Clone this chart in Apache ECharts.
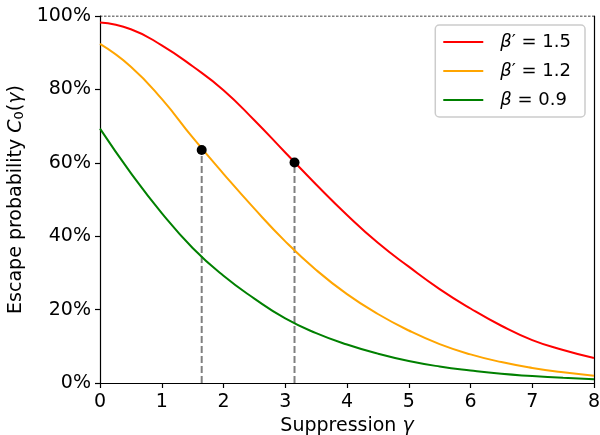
<!DOCTYPE html>
<html>
<head>
<meta charset="utf-8">
<script src="https://cdn.jsdelivr.net/npm/echarts@6/dist/echarts.min.js"></script>
<style>html,body{margin:0;padding:0;background:#fff;}#c{width:600px;height:435px;}</style>
</head>
<body>
<div id="c"></div>
<script>
const xs = [0,0.5,1,1.5,2,2.5,3,3.5,4,4.5,5,5.5,6,6.5,7,7.5,8];
const red = [98.2,96.4,92.0,86.3,79.8,71.6,62.8,54.1,45.8,38.2,31.7,25.6,20.3,15.6,11.7,9.0,6.8];
const orange = [92.4,86.2,77.4,66.9,57.0,47.5,38.6,30.8,24.2,18.8,14.3,10.6,7.8,5.7,4.1,2.9,2.0];
const green = [69.3,57.2,46.3,36.8,29.2,23.0,17.6,13.6,10.5,8.0,6.0,4.5,3.4,2.5,1.9,1.4,1.0];
const dotX = [1.647, 3.15];
const dotY = [63.5, 60.1];
const names = ["β′ = 1.5", "β′ = 1.2", "β = 0.9"];
const legendRich = ["{i|β}′ = 1.5", "{i|β}′ = 1.2", "{i|β} = 0.9"];

const F = "DejaVu Sans";
const FS = 19;
const pair = (arr) => xs.map((x,i)=>[x, arr[i]/100]);

const chart = echarts.init(document.getElementById('c'));
chart.setOption({
  animation: false,
  grid: {left:100, right:6, top:16, bottom:52, containLabel:false, outerBoundsMode:'none'},
  legend: {
    right: 15, top: 25,
    orient: 'vertical',
    data: names,
    icon: 'rect',
    itemWidth: 40, itemHeight: 2,
    itemGap: 11,
    padding: [8, 14, 8, 8],
    backgroundColor: '#fff',
    borderColor: '#cccccc',
    borderWidth: 1.5,
    borderRadius: 4,
    formatter: (n) => legendRich[names.indexOf(n)],
    textStyle: {fontFamily: F, fontSize: 18, color:'#000', padding:[0,0,0,12],
      rich: {i: {fontFamily: F, fontSize: 18, fontStyle:'italic', color:'#000'}}}
  },
  xAxis: {
    type: 'value', min: 0, max: 8, interval: 1,
    name: 'Suppression {i|γ}', nameLocation: 'middle', nameGap: 31,
    nameTextStyle: {fontFamily: F, fontSize: FS, color:'#000',
      rich: {i:{fontFamily:F, fontSize:FS, fontStyle:'italic', color:'#000'}}},
    axisLine: {show:true, lineStyle:{color:'#000', width:1.2}},
    axisTick: {show:true, length:5, lineStyle:{color:'#000', width:1.2}},
    axisLabel: {fontFamily: F, fontSize: FS, color:'#000', margin: 10},
    splitLine: {show:false}
  },
  yAxis: [{
    type: 'value', min: 0, max: 1, interval: 0.2,
    name: 'Escape probability {i|C}{s|0}({i|γ})', nameLocation: 'middle', nameGap: 68,
    nameTextStyle: {fontFamily: F, fontSize: FS, color:'#000',
      rich: {i:{fontFamily:F, fontSize:FS, fontStyle:'italic', color:'#000'},
             s:{fontFamily:F, fontSize:13, color:'#000', verticalAlign:'bottom', padding:[6,0,0,0]}}},
    axisLine: {show:true, lineStyle:{color:'#000', width:1.2}},
    axisTick: {show:true, length:5, lineStyle:{color:'#000', width:1.2}},
    axisLabel: {fontFamily: F, fontSize: FS, color:'#000', margin: 9,
      formatter: (v) => Math.round(v*100) + '%'},
    splitLine: {show:false}
  },{
    type: 'value', min: 0, max: 1, position: 'right',
    axisLine: {show:true, lineStyle:{color:'#000', width:1.2}},
    axisTick: {show:false}, axisLabel: {show:false}, splitLine: {show:false}
  }],
  series: [
    {name: names[0], type:'line', data: pair(red), smooth: 0.5, symbol:'none', lineStyle:{color:'#ff0000', width:2}, itemStyle:{color:'#ff0000'}, z:3},
    {name: names[1], type:'line', data: pair(orange), smooth: 0.5, symbol:'none', lineStyle:{color:'#ffa500', width:2}, itemStyle:{color:'#ffa500'}, z:3},
    {name: names[2], type:'line', data: pair(green), smooth: 0.5, symbol:'none', lineStyle:{color:'#008000', width:2}, itemStyle:{color:'#008000'}, z:3},
    {type:'line', data: [[0,1],[8,1]], symbol:'none', lineStyle:{color:'#000', width:1, type:[2.5,1.5]}, z:2},
    {type:'line', data: [[dotX[0],0],[dotX[0],dotY[0]/100]], symbol:'none', lineStyle:{color:'#808080', width:2, type:[7,3]}, z:2},
    {type:'line', data: [[dotX[1],0],[dotX[1],dotY[1]/100]], symbol:'none', lineStyle:{color:'#808080', width:2, type:[7,3]}, z:2},
    {type:'scatter', data: dotX.map((x,i)=>[x, dotY[i]/100]), symbolSize: 10, itemStyle:{color:'#000', opacity:1}, z:5}
  ]
});
</script>
</body>
</html>
